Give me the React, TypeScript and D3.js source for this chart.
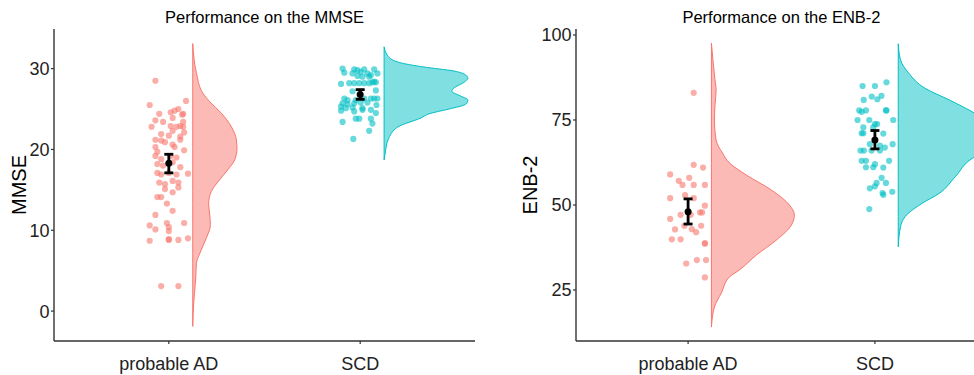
import React from "react";
import * as d3 from "d3";

// groups & colours
const groups = ["probable AD", "SCD"];
const groupColors = ["#F8766D", "#00BFC4"];

// MMSE points: [x jitter (category units), score]
const mmseAD: [number, number][] = [
  [-0.07, 28.5], [-0.1, 25.5], [0.09, 26.0], [-0.05, 24.4], [0.01, 24.6], [0.03, 24.8], [0.05, 25.0],
  [0.07, 24.3], [0.075, 24.4], [-0.07, 23.6], [-0.03, 23.4], [0.02, 23.9], [0.075, 23.4], [-0.09, 22.8],
  [0.01, 22.9], [0.04, 22.8], [0.06, 22.9], [0.075, 22.8], [0.08, 22.1], [-0.04, 21.9], [0.0, 21.7],
  [0.06, 21.6], [0.02, 22.3], [-0.07, 21.2], [-0.04, 21.1], [-0.02, 20.9], [0.06, 21.2], [0.02, 20.6],
  [-0.07, 20.3], [-0.06, 19.7], [0.03, 20.3], [0.08, 19.9], [-0.07, 19.2], [-0.04, 18.8], [0.04, 19.0],
  [0.01, 19.2], [-0.06, 18.2], [-0.03, 18.0], [0.06, 17.8], [0.02, 18.4], [-0.06, 17.1], [-0.04, 16.9],
  [0.0, 17.1], [0.04, 16.9], [0.1, 17.0], [-0.05, 15.9], [-0.02, 15.7], [0.02, 16.1], [0.05, 15.9],
  [-0.02, 15.1], [0.02, 14.7], [0.05, 15.3], [-0.06, 14.1], [-0.04, 14.1], [-0.01, 13.3], [0.02, 12.4],
  [-0.07, 11.9], [-0.01, 10.9], [0.08, 10.9], [-0.1, 10.6], [0.0, 10.4], [-0.07, 10.1], [0.0, 9.9],
  [-0.1, 8.7], [0.0, 8.8], [0.0, 8.9], [0.05, 8.8], [0.1, 9.0], [-0.04, 3.1], [0.05, 3.1],
];
const mmseSCD: [number, number][] = [
  [-0.092, 30.0], [-0.083, 29.5], [-0.031, 29.9], [-0.014, 29.8], [0.003, 29.6], [0.021, 29.9],
  [0.038, 29.4], [0.056, 29.2], [0.073, 29.9], [0.09, 29.4], [-0.04, 29.4], [-0.014, 29.1],
  [0.012, 29.0], [0.047, 29.0], [0.073, 28.4], [0.082, 28.3], [-0.1, 28.1], [-0.057, 28.2],
  [-0.031, 28.2], [-0.005, 28.2], [0.021, 28.2], [0.047, 28.2], [0.064, 28.3], [-0.04, 27.2],
  [0.082, 27.3], [-0.083, 26.3], [-0.066, 26.1], [-0.023, 26.1], [0.021, 26.3], [0.056, 26.3],
  [0.073, 26.3], [0.09, 26.3], [-0.092, 25.7], [-0.066, 25.6], [-0.031, 25.7], [0.003, 25.8],
  [0.038, 25.8], [-0.1, 25.3], [-0.075, 25.1], [-0.04, 25.2], [0.012, 25.1], [0.085, 25.5],
  [-0.1, 24.8], [-0.031, 24.7], [0.012, 24.9], [0.056, 24.9], [0.082, 24.5], [-0.023, 23.8],
  [-0.005, 23.8], [0.056, 23.8], [-0.092, 23.4], [0.064, 23.2], [0.047, 22.3], [-0.036, 21.3],
];

// ENB-2 points
const enbAD: [number, number][] = [
  [0.03, 83.0], [0.03, 61.8], [0.08, 61.0], [-0.096, 59.0], [-0.05, 57.1], [-0.03, 55.9], [0.006, 58.0],
  [0.03, 55.9], [0.09, 55.9], [-0.016, 52.9], [0.03, 52.0], [-0.096, 52.0], [0.09, 49.8], [0.064, 47.8],
  [0.075, 47.8], [-0.04, 47.1], [0.014, 47.1], [-0.096, 45.9], [-0.02, 43.9], [0.02, 42.9], [0.07, 43.9],
  [-0.07, 42.8], [0.043, 42.0], [-0.087, 39.9], [-0.04, 39.9], [0.09, 38.8], [0.09, 38.6], [-0.01, 32.8],
  [0.047, 33.8], [0.096, 33.8], [0.09, 28.7],
];
const enbSCD: [number, number][] = [
  [-0.066, 85.0], [0.0, 85.0], [0.062, 86.1], [-0.06, 80.9], [-0.017, 81.9], [0.013, 81.1], [0.035, 82.1],
  [-0.084, 77.8], [-0.071, 77.4], [-0.048, 77.8], [0.059, 77.8], [0.062, 77.8], [0.098, 75.0],
  [-0.093, 75.0], [-0.03, 75.0], [0.0, 73.8], [0.012, 73.8], [-0.062, 72.8], [-0.009, 72.8],
  [-0.071, 71.1], [-0.062, 71.1], [0.045, 71.0], [-0.027, 67.9], [0.027, 67.5], [-0.077, 66.0],
  [-0.059, 66.0], [-0.018, 66.0], [0.027, 66.0], [0.095, 67.9], [0.053, 66.9], [-0.071, 63.0],
  [-0.048, 63.0], [0.076, 63.0], [-0.048, 61.1], [-0.009, 61.1], [0.0, 62.0], [0.045, 61.0],
  [0.036, 58.0], [0.009, 56.5], [0.0, 55.5], [0.059, 56.5], [-0.027, 54.9], [0.041, 53.5],
  [0.045, 53.0], [0.093, 53.9], [-0.03, 48.8],
];

// mean and 95% CI per group
const mmseMean = [18.3, 26.8];
const mmseLo = [17.1, 26.2];
const mmseHi = [19.4, 27.4];
const enbMean = [48.0, 69.1];
const enbLo = [44.4, 66.5];
const enbHi = [51.8, 71.9];

// half-violin profiles: [score, density width (category units)]
const mmseDensAD: [number, number][] = [
  [33.1, 0], [29.5, 0.019], [27.0, 0.052], [25.9, 0.089], [24.5, 0.149], [22.8, 0.202], [21.2, 0.228],
  [20.1, 0.231], [18.7, 0.219], [17.5, 0.184], [16.0, 0.132], [14.8, 0.097], [13.3, 0.083], [11.9, 0.089],
  [10.6, 0.092], [9.2, 0.074], [7.1, 0.036], [5.9, 0.019], [4.2, 0.016], [3.0, 0.012], [1.0, 0.005], [-1.9, 0],
];
const mmseDensSCD: [number, number][] = [
  [32.7, 0], [31.5, 0.022], [30.7, 0.089], [30.2, 0.208], [29.7, 0.365], [29.2, 0.427], [28.8, 0.438],
  [28.3, 0.417], [27.6, 0.365], [27.2, 0.354], [26.7, 0.391], [26.1, 0.438], [25.6, 0.427], [25.0, 0.339],
  [24.4, 0.234], [23.9, 0.193], [22.8, 0.073], [21.2, 0.021], [19.9, 0.008], [18.7, 0],
];
const enbDensAD: [number, number][] = [
  [97.6, 0], [92.6, 0.008], [86.8, 0.019], [83.8, 0.025], [79.4, 0.019], [75.0, 0.016], [69.1, 0.025],
  [65.3, 0.059], [62.4, 0.096], [58.8, 0.187], [54.4, 0.321], [50.0, 0.417], [47.1, 0.444], [44.1, 0.428],
  [39.7, 0.348], [35.3, 0.241], [30.9, 0.15], [28.8, 0.096], [24.1, 0.053], [20.0, 0.016], [14.1, 0],
];
const enbDensSCD: [number, number][] = [
  [97.4, 0], [92.7, 0.012], [88.7, 0.057], [84.3, 0.144], [80.9, 0.273], [77.4, 0.396], [74.0, 0.492],
  [71.0, 0.535], [68.0, 0.524], [65.5, 0.455], [63.7, 0.396], [58.3, 0.305], [53.4, 0.219], [50.5, 0.128],
  [46.6, 0.037], [43.6, 0.012], [37.7, 0],
];

const mmseTicks = [0, 10, 20, 30];
const enbTicks = [25, 50, 75, 100];

const FONT = "'Liberation Sans', Arial, sans-serif";
const TOP = 29;
const BOTTOM = 341;
const NUDGE = 0.125;

type PanelProps = {
  title: string;
  yLabel: string;
  left: number;
  right: number;
  yDomain: [number, number];
  yTicks: number[];
  points: [number, number][][];
  dens: [number, number][][];
  mean: number[];
  lo: number[];
  hi: number[];
  labelX: number;
};

function Panel(p: PanelProps) {
  const x = d3.scaleLinear().domain([0.4, 2.6]).range([p.left, p.right]);
  const y = d3.scaleLinear().domain(p.yDomain).range([BOTTOM, TOP]);
  const cx = (p.left + p.right) / 2;

  return (
    <g fontFamily={FONT}>
      <text x={cx} y={23} textAnchor="middle" fontSize={16.5} fill="#000">
        {p.title}
      </text>

      {/* half violins */}
      {p.dens.map((d, i) => {
        const base = x(i + 1 + NUDGE);
        const area = d3
          .area<[number, number]>()
          .y((v) => y(v[0]))
          .x0(base)
          .x1((v) => x(i + 1 + NUDGE + v[1]))
          .curve(d3.curveMonotoneY);
        return (
          <path
            key={"d" + i}
            d={area(d) || ""}
            fill={groupColors[i]}
            fillOpacity={0.5}
            stroke={groupColors[i]}
            strokeWidth={1}
          />
        );
      })}

      {/* jittered points */}
      {p.points.map((pts, i) =>
        pts.map((pt, j) => (
          <circle
            key={"p" + i + "-" + j}
            cx={x(i + 1 + pt[0])}
            cy={y(pt[1])}
            r={3.1}
            fill={groupColors[i]}
            fillOpacity={0.6}
          />
        ))
      )}

      {/* mean + CI */}
      {p.mean.map((m, i) => {
        const xc = x(i + 1);
        return (
          <g key={"e" + i} stroke="#000" strokeWidth={2.8}>
            <line x1={xc} x2={xc} y1={y(p.lo[i])} y2={y(p.hi[i])} />
            <line x1={xc - 4.5} x2={xc + 4.5} y1={y(p.lo[i])} y2={y(p.lo[i])} />
            <line x1={xc - 4.5} x2={xc + 4.5} y1={y(p.hi[i])} y2={y(p.hi[i])} />
            <circle cx={xc} cy={y(m)} r={3.5} fill="#000" stroke="none" />
          </g>
        );
      })}

      {/* axes */}
      <line x1={p.left} x2={p.left} y1={TOP} y2={BOTTOM} stroke="#333" strokeWidth={1.4} />
      <line x1={p.left} x2={p.right} y1={BOTTOM} y2={BOTTOM} stroke="#333" strokeWidth={1.4} />
      {p.yTicks.map((t) => (
        <g key={"yt" + t}>
          <line x1={p.left - 3} x2={p.left} y1={y(t)} y2={y(t)} stroke="#333" strokeWidth={1.2} />
          <text x={p.left - 4.5} y={y(t)} dy="0.36em" textAnchor="end" fontSize={18} fill="#222">
            {t}
          </text>
        </g>
      ))}
      {groups.map((g, i) => (
        <g key={"xt" + i}>
          <line x1={x(i + 1)} x2={x(i + 1)} y1={BOTTOM} y2={BOTTOM + 3} stroke="#333" strokeWidth={1.2} />
          <text x={x(i + 1)} y={370} textAnchor="middle" fontSize={18} fill="#222">
            {g}
          </text>
        </g>
      ))}
      <text
        transform={`translate(${p.labelX},${(TOP + BOTTOM) / 2}) rotate(-90)`}
        textAnchor="middle"
        dy="0.36em"
        fontSize={20}
        fill="#000"
      >
        {p.yLabel}
      </text>
    </g>
  );
}

export default function App() {
  return (
    <svg
      width={974}
      height={375}
      style={{ position: "absolute", left: 0, top: 0, background: "#fff", overflow: "hidden" }}
    >
      <rect width={974} height={375} fill="#fff" />
      <Panel
        title="Performance on the MMSE"
        yLabel="MMSE"
        left={54}
        right={475}
        yDomain={[-3.7, 34.9]}
        yTicks={mmseTicks}
        points={[mmseAD, mmseSCD]}
        dens={[mmseDensAD, mmseDensSCD]}
        mean={mmseMean}
        lo={mmseLo}
        hi={mmseHi}
        labelX={18.5}
      />
      <Panel
        title="Performance on the ENB-2"
        yLabel="ENB-2"
        left={576}
        right={987}
        yDomain={[10.0, 101.76]}
        yTicks={enbTicks}
        points={[enbAD, enbSCD]}
        dens={[enbDensAD, enbDensSCD]}
        mean={enbMean}
        lo={enbLo}
        hi={enbHi}
        labelX={530}
      />
    </svg>
  );
}
